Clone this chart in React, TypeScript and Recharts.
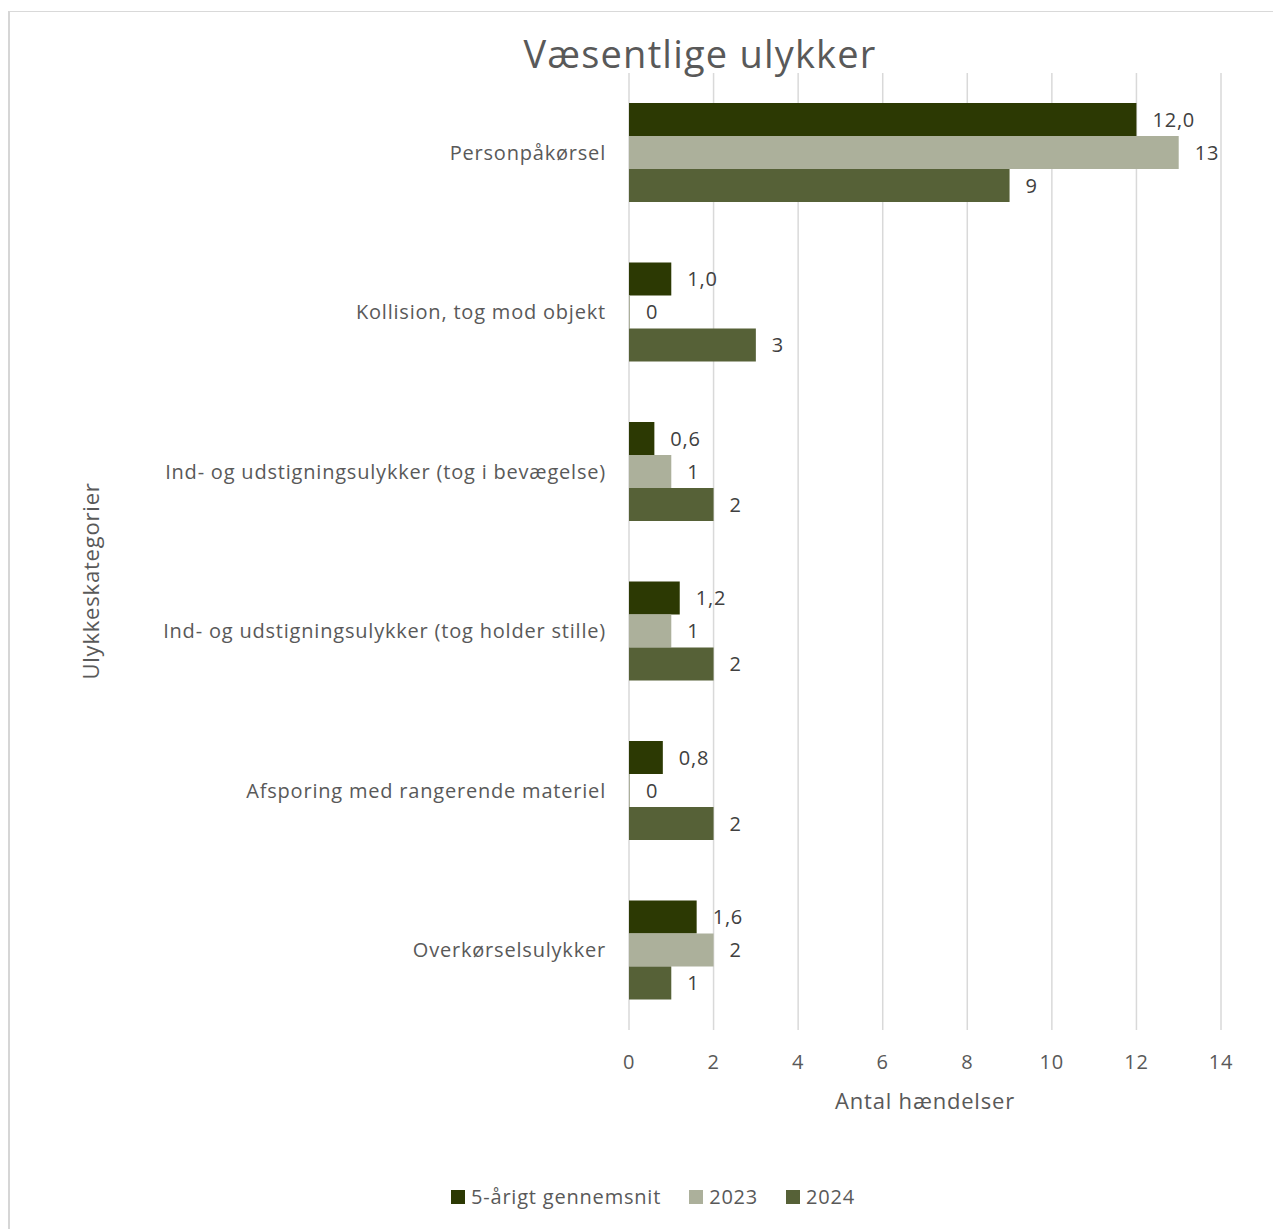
import React from 'react';
import { BarChart, Bar, XAxis, YAxis, CartesianGrid, LabelList } from 'recharts';

const categories = [
  'Personpåkørsel',
  'Kollision, tog mod objekt',
  'Ind- og udstigningsulykker (tog i bevægelse)',
  'Ind- og udstigningsulykker (tog holder stille)',
  'Afsporing med rangerende materiel',
  'Overkørselsulykker',
];
const avg5 = [12.0, 1.0, 0.6, 1.2, 0.8, 1.6];
const y2023 = [13, 0, 1, 1, 0, 2];
const y2024 = [9, 3, 2, 2, 2, 1];
const xTicks = [0, 2, 4, 6, 8, 10, 12, 14];

const series = [
  { key: 'avg', name: '5-årigt gennemsnit', color: '#2c3903' },
  { key: 'y2023', name: '2023', color: '#acb09b' },
  { key: 'y2024', name: '2024', color: '#566137' },
];

const data = categories.map((c, i) => ({ cat: c, avg: avg5[i], y2023: y2023[i], y2024: y2024[i] }));

const FONT = '"Open Sans", sans-serif';
const TEXT = '#595959';
const LS = 0.8;

const fmtComma = (v: any) => Number(v).toFixed(1).replace('.', ',');

export default function App() {
  return (
    <div style={{ position: 'relative', width: 1281, height: 1229, margin: '-8px 0 0 -8px', fontFamily: FONT, overflow: 'hidden', background: '#fff' }}>
      <div style={{ position: 'absolute', left: 0, width: 1400, top: 27, textAlign: 'center', fontSize: 38, letterSpacing: 1.2, color: TEXT }}>
        Væsentlige ulykker
      </div>
      <div style={{ position: 'absolute', top: 0, left: 0 }}>
        <BarChart
          width={1281}
          height={1229}
          data={data}
          layout="vertical"
          margin={{ top: 73, right: 60, left: 0, bottom: 109 }}
          barGap={0}
        >
          <CartesianGrid horizontal={false} stroke="#d9d9d9" strokeWidth={1.5} />
          <XAxis
            type="number"
            domain={[0, 14]}
            ticks={xTicks}
            axisLine={false}
            tickLine={false}
            tickSize={0}
            tickMargin={25}
            height={90}
            tick={{ fill: TEXT, fontSize: 20, fontFamily: FONT, letterSpacing: LS }}
            label={{ value: 'Antal hændelser', position: 'insideBottom', offset: 11, fill: TEXT, fontSize: 22, fontFamily: FONT, letterSpacing: LS }}
          />
          <YAxis
            type="category"
            dataKey="cat"
            width={629}
            axisLine={false}
            tickLine={false}
            tickSize={0}
            tickMargin={23}
            interval={0}
            tick={{ fill: TEXT, fontSize: 20, fontFamily: FONT, letterSpacing: LS }}
            label={{
              content: () => (
                <text x={90} y={581} transform="rotate(-90 90 581)" textAnchor="middle" dominantBaseline="central" fill={TEXT} fontSize={22} fontFamily={FONT} letterSpacing={LS}>
                  Ulykkeskategorier
                </text>
              ),
            }}
          />
          {series.map((s) => (
            <Bar key={s.key} dataKey={s.key} name={s.name} fill={s.color} barSize={33} minPointSize={1} isAnimationActive={false}>
              <LabelList
                dataKey={s.key}
                position="right"
                offset={16}
                fill="#404040"
                fontSize={20}
                fontFamily={FONT}
                letterSpacing={LS}
                formatter={s.key === 'avg' ? fmtComma : (v: any) => String(v)}
              />
            </Bar>
          ))}
        </BarChart>
      </div>
      <div style={{ position: 'absolute', top: 1183, left: 451, display: 'flex', alignItems: 'center', fontSize: 20, letterSpacing: LS, color: TEXT, gap: 28 }}>
        {series.map((s) => (
          <div key={s.key} style={{ display: 'flex', alignItems: 'center' }}>
            <span style={{ display: 'inline-block', width: 14, height: 14, background: s.color, marginRight: 6 }} />
            <span>{s.name}</span>
          </div>
        ))}
      </div>
      <div style={{ position: 'absolute', left: 8, top: 11, width: 1300, height: 1240, borderTop: '1px solid #d9d9d9', borderLeft: '2px solid #d6d6d6', pointerEvents: 'none' }} />
    </div>
  );
}
